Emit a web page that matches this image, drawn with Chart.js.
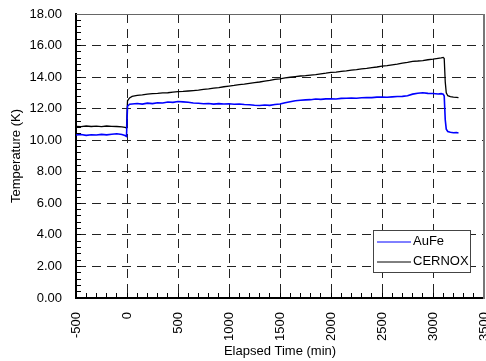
<!DOCTYPE html>
<html>
<head>
<meta charset="utf-8">
<script src="https://cdn.jsdelivr.net/npm/chart.js@4.4.1/dist/chart.umd.min.js"></script>
<style>
  html, body { margin: 0; padding: 0; background: #fff; }
  #chart { display: block; }
</style>
</head>
<body>
<canvas id="chart" width="486" height="361"></canvas>
<script>
// elapsed time (min)
const times = [
    -500, -450, -400, -350, -300, -250, -200, -150, -100, -50, -20, -5,
    5, 25, 50,
    100, 150, 200, 250, 300, 350, 400, 450, 500, 550,
    600, 650, 700, 750, 800, 850, 900, 950, 1000, 1050,
    1100, 1150, 1200, 1250, 1300, 1350, 1400, 1450, 1500, 1550,
    1600, 1650, 1700, 1750, 1800, 1850, 1900, 1950, 2000, 2050,
    2100, 2150, 2200, 2250, 2300, 2350, 2400, 2450, 2500, 2550,
    2600, 2650, 2700, 2750, 2800, 2850, 2900, 2950, 3000, 3050,
    3080, 3100, 3110, 3120, 3130, 3145, 3170, 3200, 3230, 3250
];

// temperature (K)
const aufe = [
    10.33, 10.36, 10.31, 10.35, 10.33, 10.37, 10.34, 10.38, 10.41, 10.36, 10.30, 10.24,
    12.15, 12.28, 12.30,
    12.33, 12.29, 12.35, 12.32, 12.37, 12.36, 12.42, 12.40, 12.45, 12.43,
    12.41, 12.36, 12.34, 12.31, 12.33, 12.29, 12.32, 12.30, 12.31, 12.28,
    12.30, 12.26, 12.25, 12.22, 12.20, 12.23, 12.21, 12.26, 12.30, 12.38,
    12.44, 12.50, 12.53, 12.56, 12.57, 12.61, 12.59, 12.62, 12.63, 12.61,
    12.65, 12.66, 12.68, 12.66, 12.69, 12.71, 12.70, 12.73, 12.74, 12.72,
    12.75, 12.77, 12.78, 12.82, 12.92, 12.98, 13.01, 12.97, 12.96, 12.93,
    12.95, 12.92, 12.80, 11.30, 10.70, 10.55, 10.50, 10.47, 10.49, 10.46
];

const cernox = [
    10.88, 10.86, 10.90, 10.87, 10.89, 10.86, 10.90, 10.88, 10.87, 10.85, 10.82, 10.76,
    12.50, 12.68, 12.78,
    12.84, 12.87, 12.92, 12.95, 12.97, 13.00, 13.01, 13.05, 13.08, 13.09,
    13.12, 13.15, 13.18, 13.22, 13.25, 13.30, 13.34, 13.39, 13.43, 13.47,
    13.52, 13.55, 13.60, 13.65, 13.69, 13.75, 13.79, 13.85, 13.89, 13.95,
    13.99, 14.03, 14.07, 14.09, 14.13, 14.16, 14.21, 14.25, 14.30, 14.32,
    14.37, 14.40, 14.44, 14.47, 14.52, 14.55, 14.60, 14.64, 14.70, 14.73,
    14.78, 14.82, 14.88, 14.93, 15.00, 15.02, 15.05, 15.10, 15.14, 15.19,
    15.22, 15.25, 15.18, 13.70, 13.00, 12.82, 12.76, 12.73, 12.72, 12.70
];

const seriesNames = ['AuFe', 'CERNOX'];
const seriesColors = ['#0000ff', '#000000'];
const xTitle = 'Elapsed Time (min)';
const yTitle = 'Temperature (K)';

const FONT = "'Liberation Sans', Arial, sans-serif";

function toPoints(ys) {
    return times.map((t, i) => ({x: t, y: ys[i]}));
}

function isMajor(v, step) {
    const r = v / step;
    return Math.abs(r - Math.round(r)) < 1e-6;
}

// plot frame (top/right) and the boxed legend in the lower right
const framePlugin = {
    id: 'frame',
    afterDraw(chart) {
        const ctx = chart.ctx, a = chart.chartArea;
        ctx.save();
        ctx.strokeStyle = '#666';
        ctx.lineWidth = 1;
        ctx.beginPath();
        ctx.moveTo(a.left, a.top + 0.5);
        ctx.lineTo(a.right, a.top + 0.5);
        ctx.stroke();
        ctx.strokeStyle = '#777';
        ctx.lineWidth = 2;
        ctx.beginPath();
        ctx.moveTo(a.right, a.top);
        ctx.lineTo(a.right, a.bottom + 1);
        ctx.stroke();

        const bx = a.right - 111, by = a.bottom - 68;
        ctx.fillStyle = '#fff';
        ctx.fillRect(bx, by, 97, 42);
        ctx.strokeStyle = '#444';
        ctx.lineWidth = 1;
        ctx.strokeRect(bx + 0.5, by + 0.5, 97, 42);

        ctx.font = '13px ' + FONT;
        ctx.textBaseline = 'middle';
        ctx.textAlign = 'left';
        chart.data.datasets.forEach((ds, i) => {
            const ly = by + 12 + i * 20;
            ctx.strokeStyle = ds.borderColor;
            ctx.lineWidth = 1;
            ctx.beginPath();
            ctx.moveTo(bx + 4, ly);
            ctx.lineTo(bx + 38, ly);
            ctx.stroke();
            ctx.fillStyle = '#000';
            ctx.fillText(ds.label, bx + 40, ly - 0.5);
        });
        ctx.restore();
    }
};

Chart.defaults.font.family = FONT;
Chart.defaults.font.size = 13;
Chart.defaults.color = '#000';

new Chart(document.getElementById('chart'), {
    type: 'line',
    data: {
        datasets: [
            {
                label: seriesNames[0],
                data: toPoints(aufe),
                borderColor: seriesColors[0],
                borderWidth: 1.6,
                pointRadius: 0,
                tension: 0
            },
            {
                label: seriesNames[1],
                data: toPoints(cernox),
                borderColor: seriesColors[1],
                borderWidth: 1.3,
                pointRadius: 0,
                tension: 0
            }
        ]
    },
    options: {
        responsive: false,
        animation: false,
        layout: {padding: {top: 14, right: 2, left: 0, bottom: 0}},
        plugins: {
            legend: {display: false},
            tooltip: {enabled: false}
        },
        scales: {
            x: {
                type: 'linear',
                position: 'bottom',
                min: -500,
                max: 3500,
                ticks: {
                    stepSize: 100,
                    maxTicksLimit: 100,
                    autoSkip: false,
                    minRotation: 90,
                    maxRotation: 90,
                    padding: 19,
                    callback: v => isMajor(v, 500) ? String(v) : ''
                },
                grid: {
                    color: ctx => (ctx.tick && isMajor(ctx.tick.value, 500) && ctx.tick.value > -500 && ctx.tick.value < 3500) ? '#222' : 'rgba(0,0,0,0)',
                    lineWidth: 1,
                    drawTicks: true,
                    tickLength: -5,
                    tickColor: '#000',
                    tickWidth: 1
                },
                border: {color: '#000', width: 2, dash: [9, 6]},
                title: {display: true, text: xTitle, padding: {top: 0, bottom: 2}},
                afterFit(scale) {
                    scale.height = 63;
                    scale.paddingLeft = 0;
                    scale.paddingRight = 0;
                }
            },
            y: {
                type: 'linear',
                position: 'left',
                min: 0,
                max: 18,
                ticks: {
                    stepSize: 0.4,
                    maxTicksLimit: 100,
                    autoSkip: false,
                    padding: 19,
                    callback: v => isMajor(v, 2) ? v.toFixed(2) : ''
                },
                grid: {
                    color: ctx => (ctx.tick && isMajor(ctx.tick.value, 2) && ctx.tick.value > 0.1 && ctx.tick.value < 17.9) ? '#222' : 'rgba(0,0,0,0)',
                    lineWidth: 1,
                    drawTicks: true,
                    tickLength: -5,
                    tickColor: '#000',
                    tickWidth: 1
                },
                border: {color: '#000', width: 2, dash: [9, 6]},
                title: {display: true, text: yTitle, padding: {top: 9, bottom: 0}},
                afterFit(scale) {
                    scale.width = 76;
                    scale.paddingTop = 0;
                    scale.paddingBottom = 0;
                }
            }
        }
    },
    plugins: [framePlugin]
});
</script>
</body>
</html>
